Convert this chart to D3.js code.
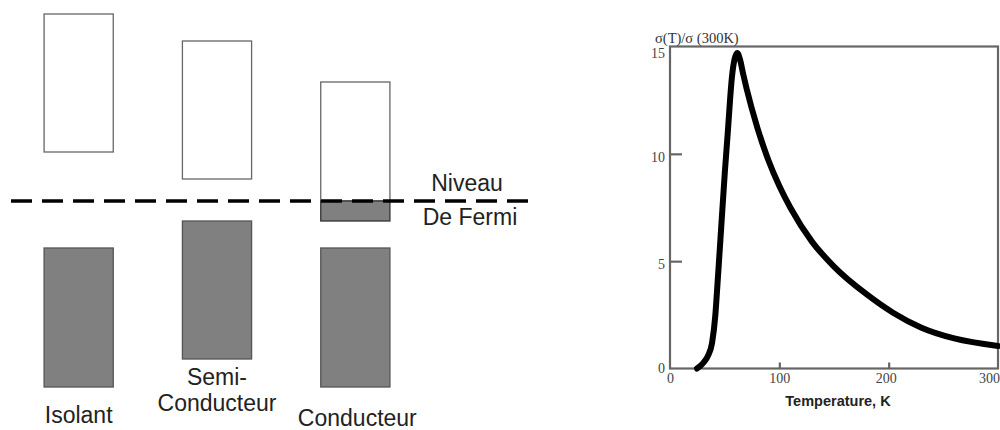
<!DOCTYPE html>
<html>
<head>
<meta charset="utf-8">
<script src="https://cdn.jsdelivr.net/npm/d3@7"></script>
<style>
  body { margin: 0; background: #fff; }
  svg { display: block; }
</style>
</head>
<body>
<div id="chart"></div>
<script>
// ---- left: band diagram (energy in arbitrary units, Fermi level = 0)
const materials = ['Isolant', 'Semi-Conducteur', 'Conducteur'];
const emptyBands = [[4.9, 18.7], [2.2, 16.0], [0, 11.9]];
const filledBands = [[-18.6, -4.7], [-15.8, -2.0], [-18.6, -4.7]];
const partialBands = [null, null, [-2.0, 0]];
const materialLabels = [['Isolant'], ['Semi-', 'Conducteur'], ['Conducteur']];
const fermiLabel = ['Niveau', 'De Fermi'];

// ---- right: conductivity vs temperature
const temps = [24.7, 27.4, 31.1, 34.8, 38.5, 41.5, 43, 46.1, 50.1, 53, 54.9, 56.7, 59, 61.5, 64, 67, 70, 80, 90, 100, 110, 130, 150, 180, 204, 230, 260, 300];
const sigma = [0, 0.1, 0.3, 0.6, 1.2, 2.5, 3.6, 6.0, 9.1, 11.1, 12.5, 13.6, 14.4, 14.7, 14.4, 13.7, 13.05, 11.2, 9.7, 8.5, 7.5, 5.9, 4.75, 3.45, 2.6, 1.9, 1.4, 1.05];
const xTicks = [0, 100, 200, 300];
const yTicks = [0, 5, 10, 15];
const yTitle = 'σ(T)/σ (300K)';
const xTitle = 'Temperature, K';

const width = 1000, height = 430;
const svg = d3.select('#chart').append('svg')
  .attr('width', width)
  .attr('height', height);

// ===== band diagram
const bx = d3.scaleBand().domain(materials).range([9.5, 424.5]).paddingInner(0.5).paddingOuter(0.25);
const ey = d3.scaleLinear().domain([-19, 19]).range([391, 11]);

const bands = svg.append('g').attr('class', 'bands');

bands.selectAll('rect.empty')
  .data(materials)
  .enter().append('rect')
  .attr('class', 'empty')
  .attr('x', d => bx(d))
  .attr('width', bx.bandwidth())
  .attr('y', (d, i) => ey(emptyBands[i][1]))
  .attr('height', (d, i) => ey(emptyBands[i][0]) - ey(emptyBands[i][1]))
  .attr('fill', '#fff')
  .attr('stroke', '#666')
  .attr('stroke-width', 1.3);

bands.selectAll('rect.filled')
  .data(materials)
  .enter().append('rect')
  .attr('class', 'filled')
  .attr('x', d => bx(d))
  .attr('width', bx.bandwidth())
  .attr('y', (d, i) => ey(filledBands[i][1]))
  .attr('height', (d, i) => ey(filledBands[i][0]) - ey(filledBands[i][1]))
  .attr('fill', '#808080')
  .attr('stroke', '#555')
  .attr('stroke-width', 1.3);

bands.selectAll('rect.partial')
  .data(materials.filter((d, i) => partialBands[i]))
  .enter().append('rect')
  .attr('class', 'partial')
  .attr('x', d => bx(d))
  .attr('width', bx.bandwidth())
  .attr('y', d => ey(partialBands[materials.indexOf(d)][1]))
  .attr('height', d => {
    const b = partialBands[materials.indexOf(d)];
    return ey(b[0]) - ey(b[1]);
  })
  .attr('fill', '#808080')
  .attr('stroke', '#333')
  .attr('stroke-width', 1.3);

// fermi level
bands.append('line')
  .attr('x1', 11).attr('x2', 528)
  .attr('y1', ey(0)).attr('y2', ey(0))
  .attr('stroke', '#000')
  .attr('stroke-width', 3.5)
  .attr('stroke-dasharray', '21,10');

const labelFont = '"Liberation Sans", Arial, sans-serif';
const labelBase = [[423], [385, 411], [426]];
const labelDx = [0, 0, 2];
materialLabels.forEach((lines, i) => {
  lines.forEach((t, j) => {
    bands.append('text')
      .attr('x', bx(materials[i]) + bx.bandwidth() / 2 + labelDx[i])
      .attr('y', labelBase[i][j])
      .attr('text-anchor', 'middle')
      .attr('font-family', labelFont)
      .attr('font-size', 23)
      .attr('fill', '#222')
      .text(t);
  });
});

bands.selectAll('text.fermi')
  .data(fermiLabel)
  .enter().append('text')
  .attr('class', 'fermi')
  .attr('x', (d, i) => i ? 470 : 467)
  .attr('y', (d, i) => i ? 225 : 191)
  .attr('text-anchor', 'middle')
  .attr('font-family', labelFont)
  .attr('font-size', 23)
  .attr('fill', '#222')
  .text(d => d);

// ===== conductivity plot
const x = d3.scaleLinear().domain([0, 300]).range([670, 998]);
const y = d3.scaleLinear().domain([0, 15]).range([368.5, 46.5]);
const serif = '"Liberation Serif", "Times New Roman", serif';

const plot = svg.append('g').attr('class', 'plot');

plot.append('rect')
  .attr('x', x(0)).attr('y', y(15))
  .attr('width', x(300) - x(0))
  .attr('height', y(0) - y(15))
  .attr('fill', 'none')
  .attr('stroke', '#666')
  .attr('stroke-width', 2.2);

const yAxis = plot.append('g')
  .attr('transform', `translate(${x(0)},0)`)
  .call(d3.axisLeft(y).tickValues(yTicks).tickSize(-12).tickPadding(5));
yAxis.select('.domain').remove();
yAxis.selectAll('.tick line')
  .attr('stroke', '#666').attr('stroke-width', 2.2)
  .filter(d => d === 0 || d === 15).remove();
yAxis.selectAll('.tick text')
  .attr('font-family', serif).attr('font-size', 14).attr('fill', '#444')
  .attr('dy', d => d === 0 ? '0.32em' : (d === 15 ? '0.8em' : '0.55em'));

const xAxis = plot.append('g')
  .attr('transform', `translate(0,${y(0)})`)
  .call(d3.axisBottom(x).tickValues(xTicks).tickSize(-6).tickPadding(4.5));
xAxis.select('.domain').remove();
xAxis.selectAll('.tick line')
  .attr('stroke', '#666').attr('stroke-width', 2.2)
  .filter(d => d === 0 || d === 300).remove();
xAxis.selectAll('.tick text')
  .attr('font-family', serif).attr('font-size', 14).attr('fill', '#444')
  .attr('dx', d => d === 300 ? -9 : (d === 200 ? -3 : 0));

const line = d3.line()
  .x((d, i) => x(temps[i]))
  .y(d => y(d))
  .curve(d3.curveMonotoneX);

plot.append('path')
  .datum(sigma)
  .attr('d', line)
  .attr('fill', 'none')
  .attr('stroke', '#000')
  .attr('stroke-width', 6)
  .attr('stroke-linejoin', 'round')
  .attr('stroke-linecap', 'round');

plot.append('text')
  .attr('x', 655).attr('y', 43)
  .attr('font-family', serif).attr('font-size', 14.5).attr('fill', '#333')
  .text(yTitle);

plot.append('text')
  .attr('x', 838).attr('y', 406)
  .attr('text-anchor', 'middle')
  .attr('font-family', labelFont).attr('font-weight', 'bold')
  .attr('font-size', 14.5).attr('fill', '#222')
  .text(xTitle);
</script>
</body>
</html>
